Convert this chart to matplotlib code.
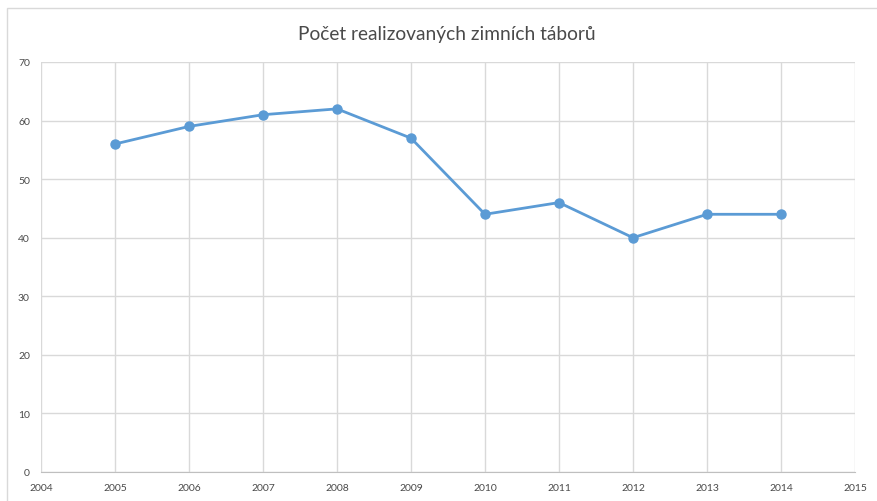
import matplotlib.pyplot as plt
from matplotlib.patches import Rectangle

# data
years = [2005, 2006, 2007, 2008, 2009, 2010, 2011, 2012, 2013, 2014]
counts = [56, 59, 61, 62, 57, 44, 46, 40, 44, 44]
x_ticks = list(range(2004, 2016))
y_ticks = list(range(0, 80, 10))
title = "Počet realizovaných zimních táborů"

LINE = "#5b9bd5"
GRID = "#d9d9d9"
TEXT = "#595959"

plt.rcParams['font.family'] = ['Lato', 'DejaVu Sans']

fig = plt.figure(figsize=(8.78, 5.02), dpi=100)
ax = fig.add_axes([41 / 878, 1 - 473 / 502, (855 - 41) / 878, (473 - 63) / 502])

ax.plot(years, counts, "-o", color=LINE, lw=2.0, ms=6.5, zorder=3, clip_on=False)

ax.set_xlim(2004, 2015)
ax.set_ylim(0, 70)
ax.set_xticks(x_ticks)
ax.set_yticks(y_ticks)
ax.grid(True, color=GRID, lw=1.0, zorder=0)
ax.set_axisbelow(True)
for side in ("top", "left", "right"):
    ax.spines[side].set_visible(False)
ax.spines["bottom"].set_color("#bfbfbf")
ax.tick_params(length=0, labelsize=7.5, colors="#4a4a4a", pad=8)

fig.text(447 / 878, 1 - 35 / 502, title, ha="center", va="center",
         fontsize=13.8, color="#4a4a4a")

# chart frame
fig.patches.append(Rectangle((7 / 878, -0.01), 0.995, 1 - 9 / 502 + 0.01,
                             transform=fig.transFigure, fill=False,
                             edgecolor="#d9d9d9", lw=1.0))

fig.savefig("out.png", dpi=100)
